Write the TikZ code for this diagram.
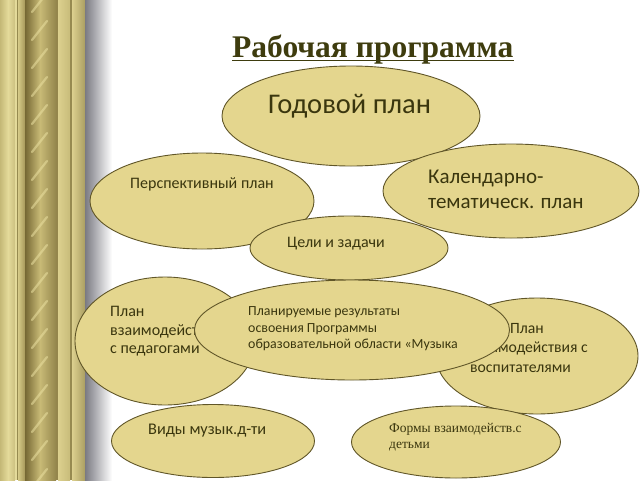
\documentclass[tikz,border=0pt]{standalone}
\usepackage{fontspec}
\setmainfont{Carlito}
\newfontfamily\serifrm{Liberation Serif}
\usetikzlibrary{shapes.geometric}
\definecolor{ellfill}{RGB}{228,214,142}
\definecolor{elldraw}{RGB}{96,86,40}
\definecolor{txt}{RGB}{58,54,14}
\definecolor{titlec}{RGB}{62,60,14}
\definecolor{gA}{RGB}{196,184,118}
\definecolor{gB}{RGB}{228,218,154}
\definecolor{gC}{RGB}{204,192,128}
\definecolor{gD}{RGB}{150,138,80}
\definecolor{gE}{RGB}{214,202,136}
\definecolor{gF}{RGB}{166,152,90}
\definecolor{gG}{RGB}{118,104,52}
\definecolor{gH}{RGB}{200,186,118}
\definecolor{gI}{RGB}{148,134,76}
\definecolor{gJ}{RGB}{220,208,142}
\definecolor{gK}{RGB}{200,188,122}
\definecolor{gL}{RGB}{170,158,98}
\definecolor{shadowc}{RGB}{122,122,130}
\definecolor{streakc}{RGB}{234,224,160}
\begin{document}
\begin{tikzpicture}[x=1pt,y=-1pt,
  ell/.style={ellipse, fill=ellfill, draw=elldraw, line width=0.9pt, inner sep=0pt},
  lbl/.style={anchor=base west, inner sep=0pt, text=txt},
  lble/.style={anchor=base east, inner sep=0pt, text=txt},
  streak/.style={draw=streakc, line width=2.2pt, line cap=round, opacity=0.55}]
\useasboundingbox (0,0) rectangle (640,480);
\fill[white] (0,0) rectangle (640,480);
% pillar
\shade[left color=gA, right color=gB] (0,0) rectangle (8,480);
\shade[left color=gB, right color=gC] (8,0) rectangle (15,480);
\fill[gB] (15,0) rectangle (16.5,480);
\fill[gD] (16.5,0) rectangle (18,480);
\shade[left color=gE, right color=gF] (18,0) rectangle (25,480);
\shade[left color=gG, right color=gH] (25,0) rectangle (40,480);
\shade[left color=gH, right color=gI] (40,0) rectangle (56,480);
\fill[gI] (56,0) rectangle (58,480);
\shade[left color=gJ, right color=gK] (58,0) rectangle (70,480);
\fill[gD] (70,0) rectangle (72,480);
\shade[left color=gJ, right color=gL] (72,0) rectangle (85,480);
\shade[left color=shadowc, right color=white] (85,0) rectangle (112,480);
\foreach \y in {-10,18,...,490} {
  \draw[streak] (32,\y+22) -- (47,\y+3);
}
% title
\node[anchor=base west, inner sep=0pt, text=titlec, font=\serifrm\bfseries\fontsize{31.5}{34}\selectfont] (title) at (232,57) {Рабочая программа\ };
\draw[titlec, line width=1.4pt] ([yshift=-3.4pt]title.base west) -- ([yshift=-3.4pt]title.base east);
% Годовой план
\node[ell, minimum width=258pt, minimum height=100pt] (god) at (351,116) {};
\node[lbl, font=\fontsize{28.5}{32}\selectfont] (godt) at (268,113) {Годовой план};
% Календарно
\node[ell, minimum width=256pt, minimum height=94pt] (kal) at (511,191) {};
\node[lbl, font=\fontsize{21}{25}\selectfont] (kal1) at (428,183) {Календарно-};
\node[lbl, font=\fontsize{21}{25}\selectfont] (kal2) at (428,208) {тематическ. план};
% Перспективный
\node[ell, minimum width=224pt, minimum height=96pt] (persp) at (202,201) {};
\node[lbl, font=\fontsize{16}{19}\selectfont] (perspt) at (130,188) {Перспективный план};
% Цели
\node[ell, minimum width=198pt, minimum height=64pt] (celi) at (349,248) {};
\node[lbl, font=\fontsize{16}{19}\selectfont] (celit) at (287,247) {Цели и задачи};
% left
\node[ell, minimum width=180pt, minimum height=128pt] (ped) at (165,341) {};
\node[lbl, font=\fontsize{16}{19}\selectfont] (ped1) at (110,316) {План};
\node[lbl, font=\fontsize{16}{19}\selectfont] (ped2) at (110,335) {взаимодействия};
\node[lbl, font=\fontsize{16}{19}\selectfont] (ped3) at (110,353) {с педагогами};
% right
\node[ell, minimum width=202pt, minimum height=116pt] (vos) at (537,356) {};
\node[lbl, font=\fontsize{15.7}{19}\selectfont] (vos1) at (510,333) {План};
\node[lble, font=\fontsize{15.7}{19}\selectfont] (vos2) at (588,352) {взаимодействия с};
\node[lbl, font=\fontsize{15.7}{19}\selectfont] (vos3) at (470,372) {воспитателями};
% center
\node[ell, minimum width=315pt, minimum height=100pt] (res) at (352,330) {};
\node[lbl, font=\fontsize{13.9}{16}\selectfont] (res1) at (248,315) {Планируемые результаты};
\node[lbl, font=\fontsize{13.9}{16}\selectfont] (res2) at (248,332) {освоения Программы};
\node[lbl, font=\fontsize{13.9}{16}\selectfont] (res3) at (248,348) {образовательной области «Музыка};
% Виды
\node[ell, minimum width=203pt, minimum height=73pt] (vid) at (213,441) {};
\node[lbl, font=\fontsize{16.3}{19}\selectfont] (vidt) at (148,434) {Виды музык.д-ти};
% Формы
\node[ell, minimum width=209pt, minimum height=72pt] (form) at (456,442) {};
\node[lbl, font=\serifrm\fontsize{13.5}{16}\selectfont] (form1) at (389,432) {Формы взаимодейств.с};
\node[lbl, font=\serifrm\fontsize{13.5}{16}\selectfont] (form2) at (389,448) {детьми};
\end{tikzpicture}
\end{document}
